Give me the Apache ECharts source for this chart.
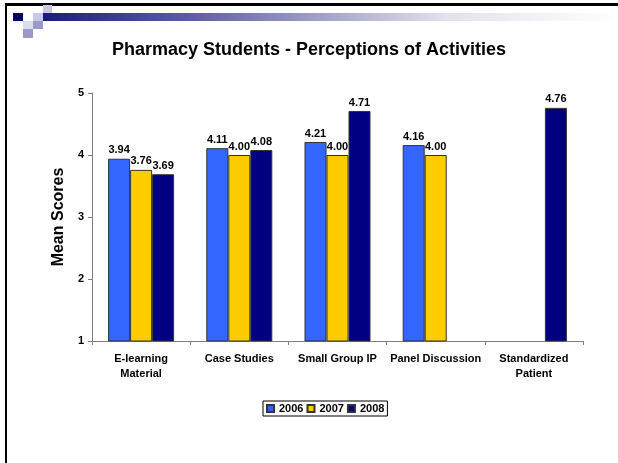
<!DOCTYPE html>
<html>
<head>
<meta charset="utf-8">
<script src="https://cdn.jsdelivr.net/npm/echarts@6/dist/echarts.min.js"></script>
<style>
html,body{margin:0;padding:0;background:#fff;}
#chart{width:618px;height:463px;}
</style>
</head>
<body>
<div id="chart"></div>
<script>
var categories = ['E-learning\nMaterial', 'Case Studies', 'Small Group IP', 'Panel Discussion', 'Standardized\nPatient'];
var seriesNames = ['2006', '2007', '2008'];
var values2006 = [3.94, 4.11, 4.21, 4.16, null];
var values2007 = [3.76, 4.00, 4.00, 4.00, null];
var values2008 = [3.69, 4.08, 4.71, null, 4.76];
var colors = ['#3366FF', '#FFCC00', '#000080'];
var yTicks = [1, 2, 3, 4, 5];

var FONT = '"Liberation Sans", Arial, sans-serif';
var chart = echarts.init(document.getElementById('chart'));

function mkSeries(name, data, color) {
  return {
    name: name,
    type: 'bar',
    data: data,
    barWidth: 22,
    barGap: '0%',
    itemStyle: { color: color, borderColor: '#333333', borderWidth: 1 },
    label: {
      show: true,
      position: 'top',
      distance: 3,
      fontFamily: FONT,
      fontSize: 11,
      fontWeight: 'bold',
      color: '#000',
      formatter: function (p) { return p.value == null ? '' : p.value.toFixed(2); }
    }
  };
}

var option = {
  animation: false,
  backgroundColor: '#ffffff',
  title: {
    text: 'Pharmacy Students - Perceptions of Activities',
    left: 'center',
    top: 36,
    textStyle: { fontFamily: FONT, fontSize: 18, fontWeight: 'bold', color: '#000' }
  },
  legend: {
    data: seriesNames,
    left: 263,
    top: 401,
    orient: 'horizontal',
    icon: 'rect',
    itemWidth: 7,
    itemHeight: 7,
    itemGap: 3,
    padding: [2, 3, 2, 3],
    borderColor: '#000',
    borderWidth: 1,
    textStyle: { fontFamily: FONT, fontSize: 11, fontWeight: 'bold', color: '#000' }
  },
  grid: { left: 92, right: 35, top: 93, bottom: 122 },
  xAxis: {
    type: 'category',
    data: categories,
    axisLine: { lineStyle: { color: '#808080', width: 1 } },
    axisTick: { show: true, alignWithLabel: false, length: 4, lineStyle: { color: '#808080' } },
    axisLabel: { fontFamily: FONT, fontSize: 11, fontWeight: 'bold', color: '#000', margin: 10, lineHeight: 15, interval: 0 }
  },
  yAxis: {
    type: 'value',
    min: yTicks[0],
    max: yTicks[yTicks.length - 1],
    interval: 1,
    name: 'Mean Scores',
    nameLocation: 'middle',
    nameRotate: 90,
    nameGap: 24,
    nameTextStyle: { fontFamily: FONT, fontSize: 16, fontWeight: 'bold', color: '#000' },
    splitLine: { show: false },
    axisLine: { show: true, lineStyle: { color: '#808080', width: 1 } },
    axisTick: { show: true, length: 4, lineStyle: { color: '#808080' } },
    axisLabel: { fontFamily: FONT, fontSize: 11, fontWeight: 'bold', color: '#000', margin: 8 }
  },
  series: [
    mkSeries(seriesNames[0], values2006, colors[0]),
    mkSeries(seriesNames[1], values2007, colors[1]),
    mkSeries(seriesNames[2], values2008, colors[2])
  ],
  graphic: [
    { type: 'rect', shape: { x: 5, y: 3, width: 613, height: 3 }, style: { fill: '#000' } },
    { type: 'rect', shape: { x: 5, y: 3, width: 2, height: 460 }, style: { fill: '#000' } },
    { type: 'rect', shape: { x: 43, y: 13, width: 575, height: 8 },
      style: { fill: new echarts.graphic.LinearGradient(0, 0, 1, 0, [
        { offset: 0, color: '#1b1b7e' }, { offset: 0.3, color: '#6a6aa8' },
        { offset: 0.7, color: '#e2e2ee' }, { offset: 1, color: '#ffffff' }]) } },
    { type: 'rect', shape: { x: 13, y: 13, width: 10, height: 8 }, style: { fill: '#000066' } },
    { type: 'rect', shape: { x: 33, y: 13, width: 10, height: 8 }, style: { fill: '#c8c8e6' } },
    { type: 'rect', shape: { x: 43, y: 5, width: 9, height: 8 }, style: { fill: '#c8c8e6' } },
    { type: 'rect', shape: { x: 33, y: 21, width: 10, height: 8 }, style: { fill: '#9999cc' } },
    { type: 'rect', shape: { x: 23, y: 21, width: 10, height: 8 }, style: { fill: '#dcdcf0' } },
    { type: 'rect', shape: { x: 23, y: 29, width: 10, height: 9 }, style: { fill: '#9999cc' } }
  ]
};
chart.setOption(option);
</script>
</body>
</html>
